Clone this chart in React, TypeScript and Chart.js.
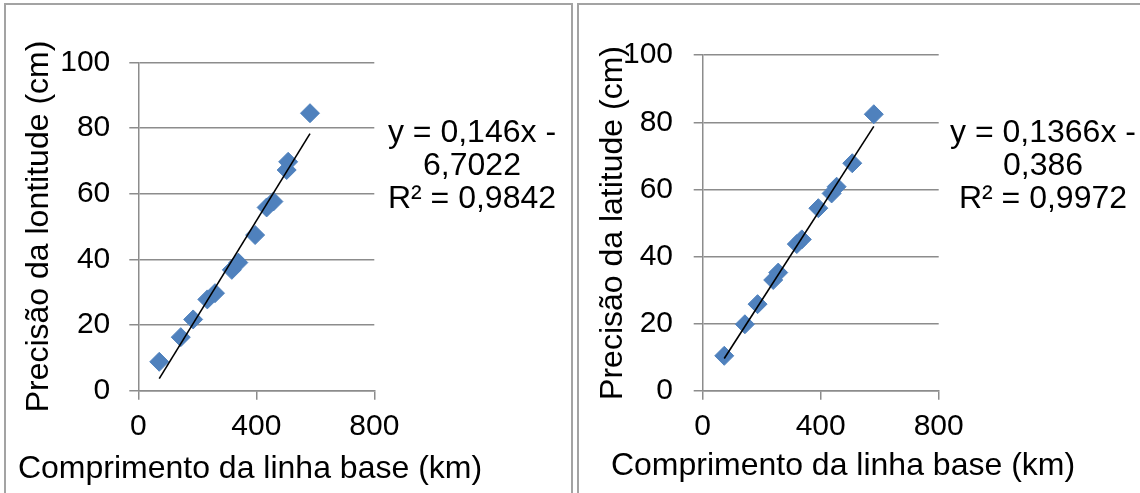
import React, { useEffect, useRef } from "react";
import { Chart, registerables } from "chart.js";

Chart.register(...registerables);

const FONT = "'Liberation Sans', Arial, Helvetica, sans-serif";

// ---- data ----
const xTicks = [0, 400, 800];
const yTicks = [0, 20, 40, 60, 80, 100];

const lonBaselineKm = [71, 144, 186, 234, 260, 317, 339, 396, 435, 458, 503, 508, 582];
const lonPrecisionCm = [8.8, 16.3, 21.7, 27.8, 29.7, 36.8, 39.0, 47.4, 55.8, 57.6, 67.2, 69.7, 84.5];
const lonTrendX = [71, 582];
const lonTrendY = [3.7, 78.3];

const latBaselineKm = [73, 143, 186, 239, 256, 319, 336, 392, 437, 454, 507, 580];
const latPrecisionCm = [10.4, 19.8, 25.8, 33.0, 35.2, 43.7, 45.1, 54.4, 58.8, 60.8, 67.8, 82.4];
const latTrendX = [73, 580];
const latTrendY = [9.6, 78.8];

const lonEquation = ["y = 0,146x -", "6,7022", "R² = 0,9842"];
const latEquation = ["y = 0,1366x -", "0,386", "R² = 0,9972"];
const xTitle = "Comprimento da linha base (km)";
const lonYTitle = "Precisão da lontitude (cm)";
const latYTitle = "Precisão da latitude (cm)";

const GRID = "#8c8c8c";
const POINT = "#4F81BD";

type ChartProps = {
  left: number;
  top: number;
  width: number;
  height: number;
  xs: number[];
  ys: number[];
  tx: number[];
  ty: number[];
  yTitle: string;
  yAxisW: number;
  xAxisH: number;
  pad: { left: number; top: number; right: number; bottom: number };
  yTitlePad: number;
  yTickPad: number;
};

function ScatterChart(p: ChartProps) {
  const ref = useRef<HTMLCanvasElement>(null);
  useEffect(() => {
    const chart = new Chart(ref.current as HTMLCanvasElement, {
      type: "scatter",
      data: {
        datasets: [
          {
            type: "line",
            data: p.tx.map((x, i) => ({ x, y: p.ty[i] })),
            borderColor: "#000000",
            borderWidth: 1.6,
            pointRadius: 0,
            fill: false,
            tension: 0,
          } as any,
          {
            type: "scatter",
            data: p.xs.map((x, i) => ({ x, y: p.ys[i] })),
            pointStyle: "rectRot",
            pointRadius: 9.5,
            pointBackgroundColor: POINT,
            pointBorderColor: POINT,
            pointBorderWidth: 1,
          } as any,
        ],
      },
      options: {
        animation: false,
        responsive: false,
        maintainAspectRatio: false,
        layout: { padding: p.pad },
        plugins: { legend: { display: false }, tooltip: { enabled: false } },
        scales: {
          x: {
            type: "linear",
            min: 0,
            max: 800,
            afterBuildTicks: (s: any) => {
              s.ticks = xTicks.map((v) => ({ value: v }));
            },
            afterFit: (s: any) => {
              s.height = p.xAxisH;
            },
            ticks: {
              font: { family: FONT, size: 30 },
              color: "#000000",
              padding: 9,
              maxRotation: 0,
              autoSkip: false,
            },
            grid: {
              drawOnChartArea: false,
              drawTicks: true,
              tickLength: 9,
              color: GRID,
              lineWidth: 1.5,
            },
            border: { display: true, color: GRID, width: 1.5 },
          },
          y: {
            type: "linear",
            min: 0,
            max: 100,
            afterBuildTicks: (s: any) => {
              s.ticks = yTicks.map((v) => ({ value: v }));
            },
            afterFit: (s: any) => {
              s.width = p.yAxisW;
            },
            ticks: {
              font: { family: FONT, size: 30 },
              color: "#000000",
              padding: p.yTickPad,
              autoSkip: false,
            },
            grid: {
              drawTicks: true,
              tickLength: 9,
              color: GRID,
              lineWidth: 1.5,
            },
            border: { display: true, color: GRID, width: 1.5 },
            title: {
              display: true,
              text: p.yTitle,
              color: "#000000",
              font: { family: FONT, size: 32 },
              padding: { top: p.yTitlePad, bottom: 0 },
            },
          },
        },
      },
    } as any);
    return () => chart.destroy();
  }, []);
  return (
    <canvas
      ref={ref}
      width={p.width}
      height={p.height}
      style={{ position: "absolute", left: p.left, top: p.top, width: p.width, height: p.height }}
    />
  );
}

function TextBlock(props: { lines: string[]; left: number; top: number; width: number; lh: number }) {
  return (
    <div
      style={{
        position: "absolute",
        left: props.left,
        top: props.top,
        width: props.width,
        textAlign: "center",
        fontFamily: FONT,
        fontSize: 32,
        lineHeight: props.lh + "px",
        color: "#000",
        whiteSpace: "nowrap",
      }}
    >
      {props.lines.map((l, i) => (
        <div key={i}>{l}</div>
      ))}
    </div>
  );
}

export default function App() {
  useEffect(() => {
    document.body.style.margin = "0";
  }, []);
  return (
    <div
      style={{
        position: "fixed",
        left: 0,
        top: 0,
        width: 1140,
        height: 493,
        overflow: "hidden",
        background: "#ffffff",
      }}
    >
      <div style={{ position: "absolute", left: 4, top: 3, width: 565, height: 600, border: "2px solid #a3a3a3" }} />
      <div style={{ position: "absolute", left: 577, top: 3, width: 700, height: 600, border: "2px solid #a3a3a3" }} />

      <ScatterChart
        left={6}
        top={6}
        width={566}
        height={487}
        xs={lonBaselineKm}
        ys={lonPrecisionCm}
        tx={lonTrendX}
        ty={lonTrendY}
        yTitle={lonYTitle}
        yAxisW={132.3}
        xAxisH={102.3}
        pad={{ left: 0, top: 56.3, right: 197.7, bottom: 0 }}
        yTitlePad={13.8}
        yTickPad={19}
      />
      <ScatterChart
        left={579}
        top={6}
        width={561}
        height={487}
        xs={latBaselineKm}
        ys={latPrecisionCm}
        tx={latTrendX}
        ty={latTrendY}
        yTitle={latYTitle}
        yAxisW={123.7}
        xAxisH={102.3}
        pad={{ left: 0, top: 49.2, right: 201.3, bottom: 0 }}
        yTitlePad={14.8}
        yTickPad={20.7}
      />

      <TextBlock lines={lonEquation} left={372} top={115} width={200} lh={33} />
      <TextBlock lines={latEquation} left={943} top={115} width={200} lh={33} />
      <TextBlock lines={[xTitle]} left={0} top={449} width={500} lh={37} />
      <TextBlock lines={[xTitle]} left={593} top={446} width={500} lh={37} />
    </div>
  );
}
